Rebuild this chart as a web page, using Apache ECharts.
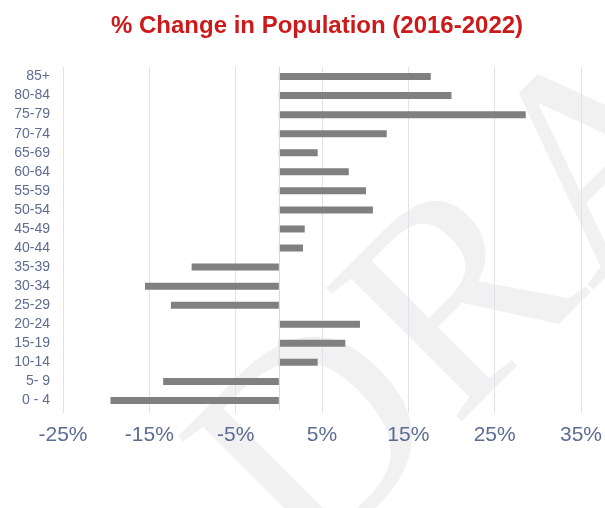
<!DOCTYPE html>
<html>
<head>
<meta charset="utf-8">
<script src="https://cdn.jsdelivr.net/npm/echarts@6/dist/echarts.min.js"></script>
<style>
  html, body { margin: 0; padding: 0; background: #fff; }
  #chart { width: 605px; height: 508px; }
</style>
</head>
<body>
<div id="chart"></div>
<script>
// age bands, bottom to top as ECharts draws a category y axis
const ageBands = ['0 - 4', '5- 9', '10-14', '15-19', '20-24', '25-29', '30-34', '35-39', '40-44',
  '45-49', '50-54', '55-59', '60-64', '65-69', '70-74', '75-79', '80-84', '85+'];

// % change 2016-2022, same order
const pctChange = [-19.5, -13.4, 4.5, 7.7, 9.4, -12.5, -15.5, -10.1, 2.8,
  3.0, 10.9, 10.1, 8.1, 4.5, 12.5, 28.6, 20.0, 17.6];

const xMin = -25;
const xMax = 35;
const xStep = 10;

const titleText = '% Change in Population (2016-2022)';

const labelColor = '#5d6c92';
const gridColor = '#dde2ec';
const fontFamily = 'Liberation Sans, Arial, sans-serif';

const chart = echarts.init(document.getElementById('chart'), null, { renderer: 'canvas' });

chart.setOption({
  animation: false,
  backgroundColor: '#fff',
  title: {
    text: titleText,
    left: 106,
    top: 9,
    textStyle: {
      color: '#cc1a1a',
      fontFamily: fontFamily,
      fontWeight: 'bold',
      fontSize: 24
    }
  },
  graphic: [{
    // faint watermark behind the plot
    type: 'text',
    x: 355,
    y: 625,
    rotation: Math.PI / 4,
    z: -10,
    silent: true,
    style: {
      text: 'DRAFT',
      font: '290px "Liberation Serif", serif',
      fill: '#f1f1f1',
      textAlign: 'left',
      textVerticalAlign: 'bottom'
    }
  }],
  grid: {
    left: 63,
    right: 24,
    top: 67,
    bottom: 98
  },
  xAxis: {
    type: 'value',
    min: xMin,
    max: xMax,
    interval: xStep,
    axisLine: { show: false },
    axisTick: { show: true, length: 3, lineStyle: { color: gridColor } },
    splitLine: { show: true, lineStyle: { color: gridColor, width: 1 } },
    axisLabel: {
      formatter: '{value}%',
      color: labelColor,
      fontFamily: fontFamily,
      fontSize: 21,
      margin: 15
    }
  },
  yAxis: {
    type: 'category',
    data: ageBands,
    axisLine: { show: false, onZero: false },
    axisTick: { show: false },
    axisLabel: {
      color: labelColor,
      fontFamily: fontFamily,
      fontSize: 14,
      margin: 13
    }
  },
  series: [{
    type: 'bar',
    data: pctChange,
    barWidth: 7,
    itemStyle: { color: '#808080' },
    markLine: {
      silent: true,
      symbol: 'none',
      label: { show: false },
      lineStyle: { color: '#d4d9e5', type: 'solid', width: 1 },
      data: [{ xAxis: 0 }]
    }
  }]
});
</script>
</body>
</html>
